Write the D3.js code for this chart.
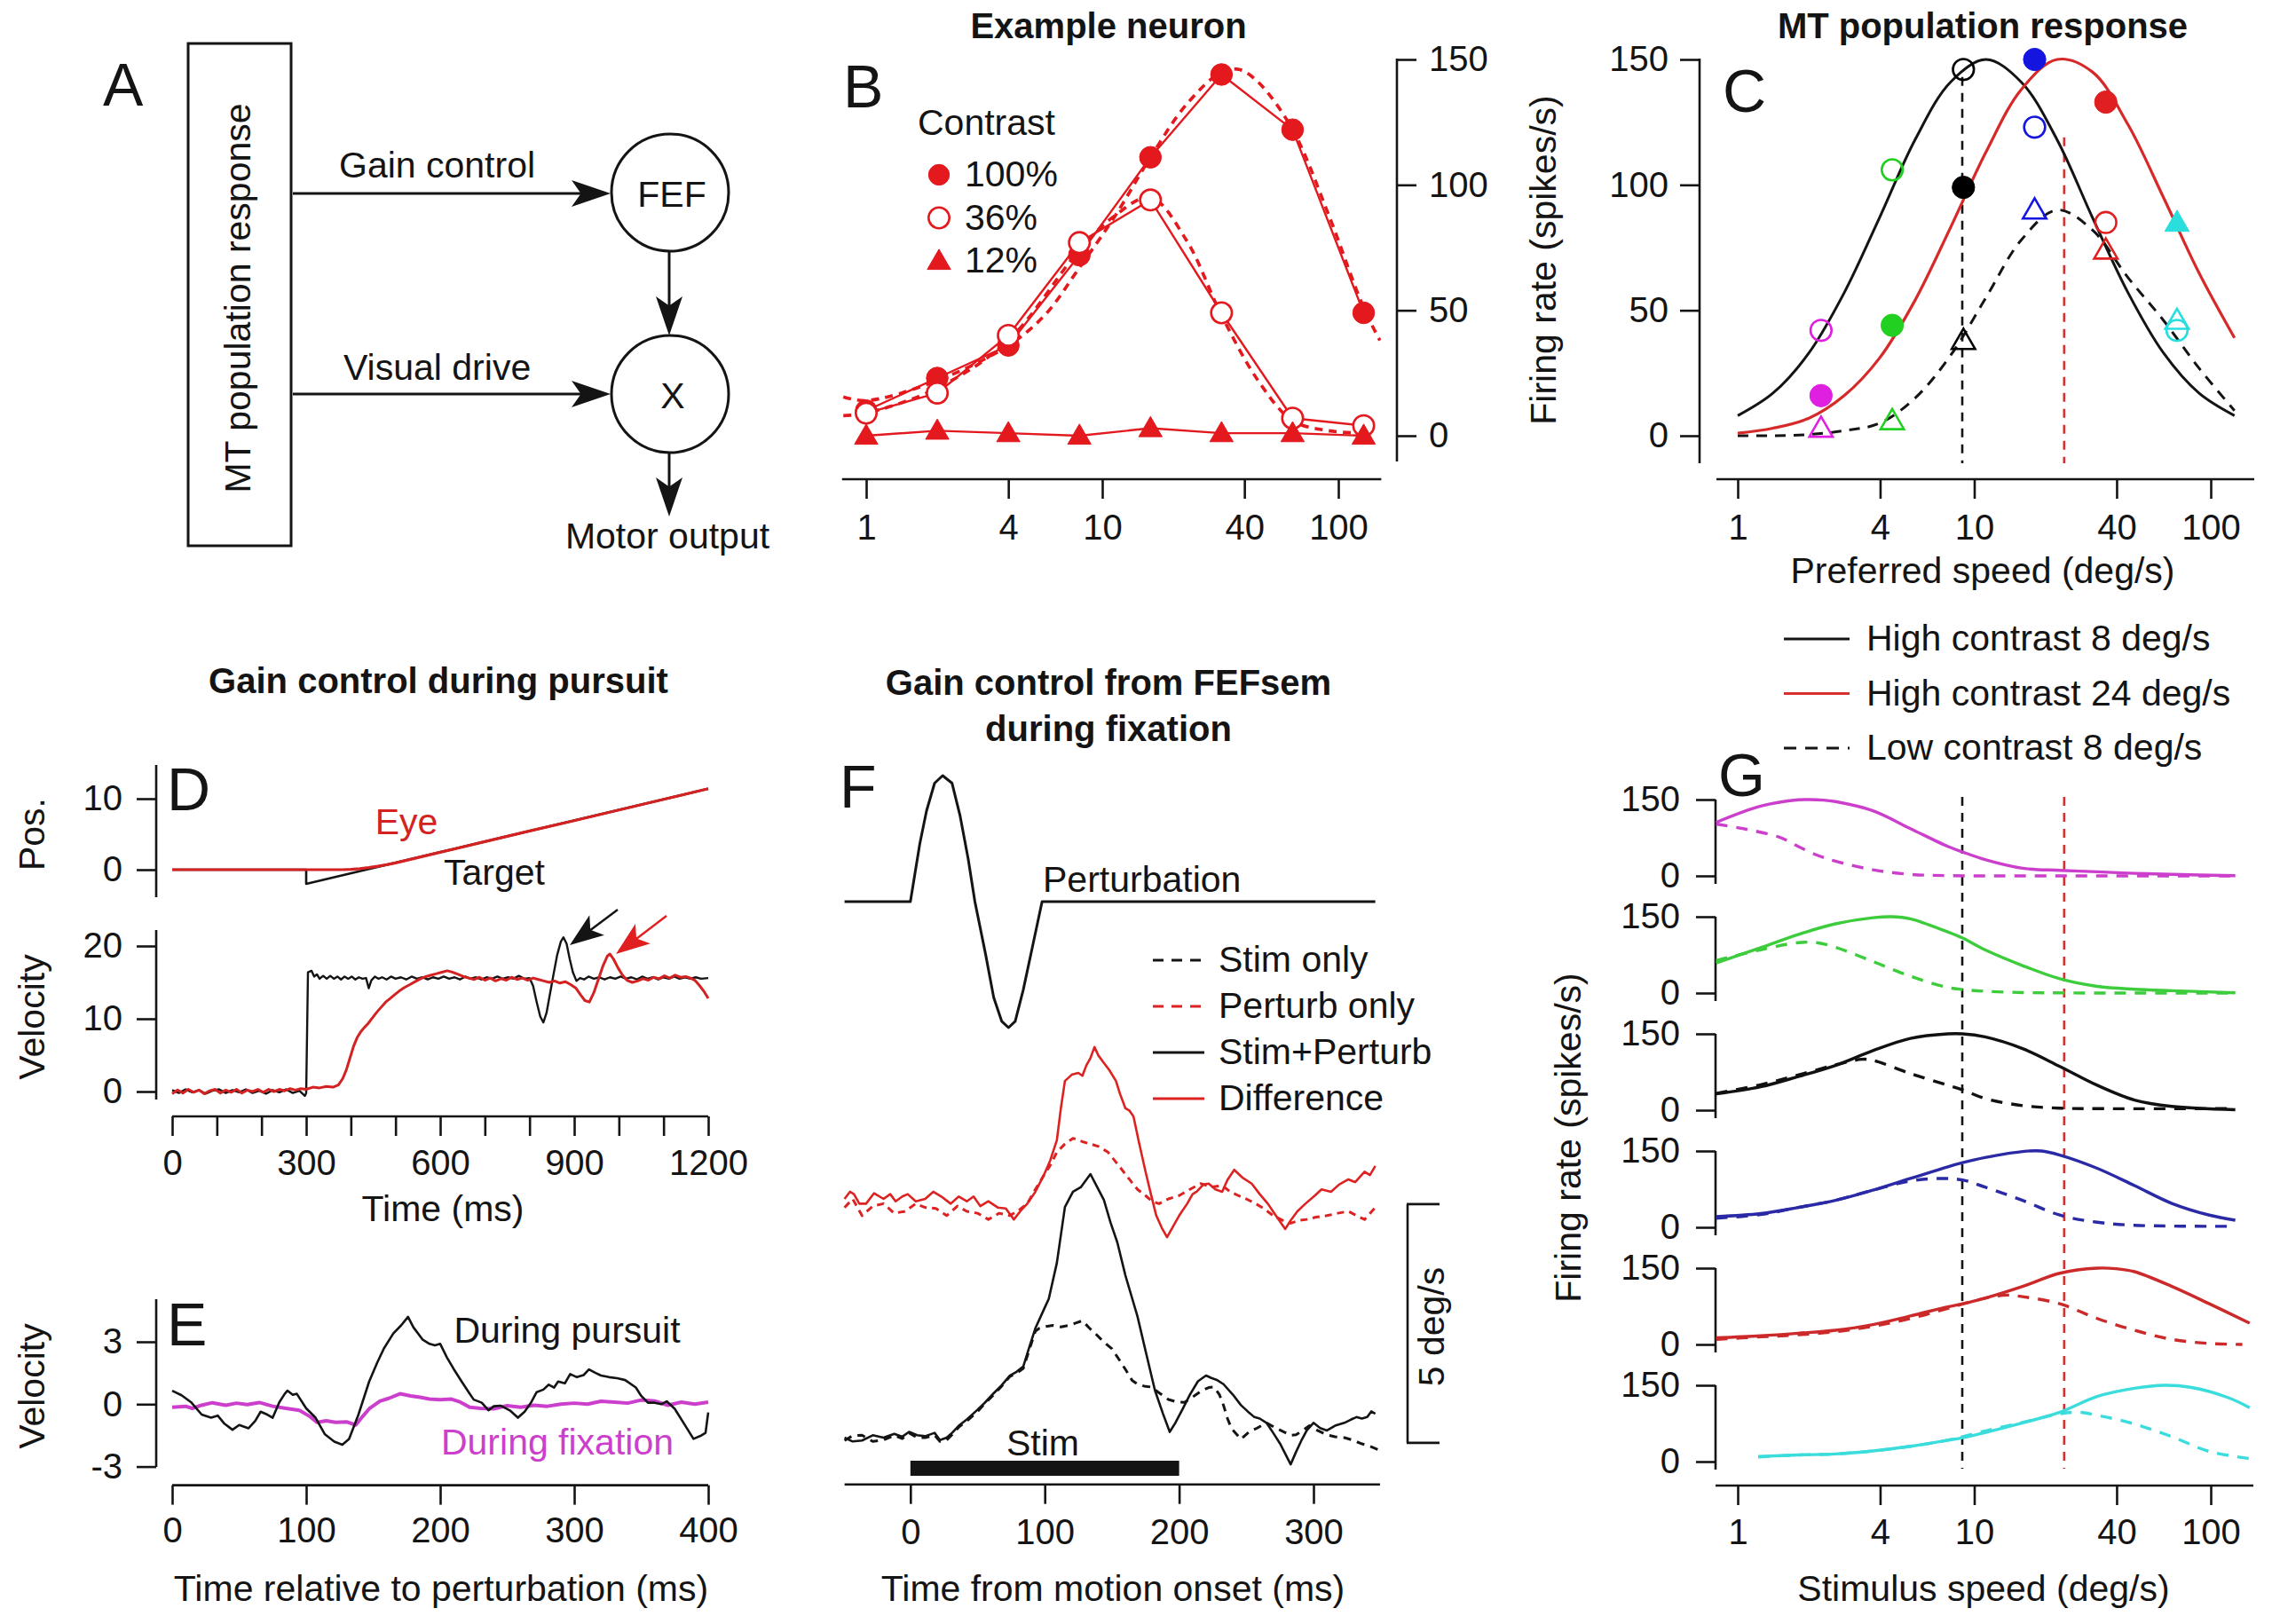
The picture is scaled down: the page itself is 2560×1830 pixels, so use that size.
<!DOCTYPE html>
<html><head><meta charset="utf-8">
<script src="https://cdn.jsdelivr.net/npm/d3@7"></script>
<style>
html,body{margin:0;padding:0;background:#fff;}
svg{display:block;}
</style></head><body>
<svg id="fig" width="2560" height="1830"></svg>
<script>
// ===================== DATA =====================
// Panel B: example neuron
const bSpeeds = [1, 2, 4, 8, 16, 32, 64, 128];
const b100 = [10, 23, 36, 72, 111, 144, 122, 49];
const b36 = [9, 17, 40, 77, 94, 49, 7, 4];
const b12 = [0, 2, 1, 0, 3, 1, 1, 0];
const bFit100 = [[0.8,15.5],[1,14],[2,22],[4,36],[5.7,48],[8,67],[11.4,88],[16,111],[22.7,132],[32,145],[38,146],[45.7,141],[64,122],[91,88],[128,51],[150,38]];
const bFit36 = [[0.8,8],[1,9],[2,19],[4,38],[8,74],[11.4,88],[16,95],[22.7,78],[32,48],[45.7,22],[64,6],[91,2],[128,1]];
const bLegend = ["100%", "36%", "12%"];

// Panel C: MT population response
const cSpeeds = [1, 1.41, 2, 2.82, 3.98, 5.62, 7.94, 11.2, 15.8, 22.4, 31.6, 44.7, 63.1, 89.1, 126];
const cHigh8 = [8, 17, 33, 57, 87, 118, 141, 150, 141, 118, 87, 57, 33, 17, 8];
const cHigh24 = [1, 3, 7, 16, 31, 54, 83, 113, 138, 150, 145, 124, 95, 65, 39];
const cLow8 = [0, 0, 0.5, 2, 5, 15, 32, 55, 78, 90, 82, 63, 46, 27, 10];
const cMarkerSpeeds = [2.25, 4.5, 9, 18, 36, 72];
const cMarkerColors = ["#e020e0", "#22d022", "#000000", "#1515e0", "#e02020", "#2adede"];
const cOpenCircle = [42, 106, 146, 123, 85, 42];
const cFilled = [16, 44, 99, 150, 133, 85];
const cFilledShape = ["circle", "circle", "circle", "circle", "circle", "triangle"];
const cOpenTriangle = [3, 6, 38, 90, 74, 46];
const stimSpeedMarks = [8.9, 24];

// Panel D: gain control during pursuit
const dTargetPos = [[0,0],[300,0],[300,-2],[1200,11.4]];
const dEyePos = [[0,0],[380,0],[400,0.05],[420,0.15],[440,0.3],[460,0.48],[480,0.7],[500,0.95],[550,1.7],[600,2.45],[700,3.95],[800,5.45],[900,6.9],[1000,8.4],[1100,9.9],[1200,11.4]];
const dTargetVel = [[0,0.2],[15,-0.2],[30,0.3],[45,-0.1],[60,0.2],[75,-0.3],[90,0.1],[105,0.3],[120,-0.2],[135,0.2],[150,-0.1],[165,0.3],[180,-0.2],[195,0.1],[210,-0.3],[225,0.2],[240,-0.1],[255,0.3],[270,-0.2],[285,0.1],[297,-0.6],[300,-0.2],[304,16.4],[312,16.6],[318,15.8],[324,16.1],[330,15.5],[338,15.9],[346,15.5],[354,15.9],[362,15.5],[370,15.8],[378,15.4],[386,15.8],[394,15.5],[402,15.8],[410,15.4],[418,15.7],[426,15.5],[434,15.6],[440,14.2],[446,15.3],[454,15.8],[462,15.5],[470,15.7],[480,15.4],[490,15.8],[500,15.5],[512,15.7],[524,15.4],[536,15.8],[548,15.5],[560,15.7],[572,15.4],[584,15.7],[596,15.5],[608,15.8],[620,15.5],[632,15.7],[644,15.4],[656,15.8],[668,15.5],[680,15.7],[692,15.4],[704,15.7],[716,15.5],[728,15.8],[740,15.5],[752,15.7],[764,15.5],[776,15.9],[788,15.5],[800,15.6],[808,14.5],[816,12.3],[824,10.3],[831,9.5],[838,10.8],[846,13.5],[854,16.2],[862,18.8],[870,20.6],[876,21.2],[883,20.3],[890,18.2],[897,16.4],[905,15.2],[913,15.6],[922,15.4],[932,15.8],[944,15.5],[956,15.7],[968,15.4],[980,15.7],[992,15.5],[1004,15.8],[1016,15.5],[1028,15.7],[1040,15.4],[1052,15.8],[1064,15.5],[1076,15.7],[1088,15.4],[1100,15.7],[1112,15.5],[1124,15.8],[1136,15.5],[1148,15.7],[1160,15.5],[1172,15.7],[1184,15.5],[1200,15.6]];
const dEyeVel = [[0,-0.3],[12,0.2],[24,-0.2],[36,0.3],[48,-0.1],[60,0.2],[72,-0.3],[84,0.1],[96,0.3],[108,-0.2],[120,0.2],[132,-0.1],[144,0.3],[156,-0.2],[168,0.2],[180,0.0],[192,0.3],[204,-0.1],[216,0.3],[228,0.0],[240,0.3],[252,0.1],[264,0.4],[276,0.2],[288,0.4],[300,0.3],[315,0.6],[330,0.5],[345,0.7],[360,0.6],[372,0.9],[382,1.8],[390,3.0],[398,4.6],[406,6.2],[414,7.4],[422,8.2],[430,8.8],[438,9.3],[448,10.1],[458,10.9],[468,11.6],[478,12.3],[488,12.8],[498,13.3],[508,13.8],[520,14.3],[532,14.7],[544,15.1],[556,15.5],[568,15.8],[580,16.0],[592,16.2],[604,16.4],[616,16.6],[628,16.4],[640,16.1],[652,15.8],[664,15.6],[676,15.4],[688,15.7],[700,15.3],[712,15.6],[724,15.2],[736,15.5],[748,15.3],[760,15.7],[772,15.4],[784,15.6],[796,15.3],[808,15.6],[820,15.4],[832,15.2],[844,15.0],[856,15.2],[868,14.9],[880,15.1],[892,14.7],[904,14.2],[914,13.3],[924,12.5],[934,12.3],[944,13.6],[954,15.4],[964,17.2],[974,18.6],[980,18.9],[988,18.2],[998,17.0],[1008,16.0],[1018,15.3],[1030,15.0],[1042,15.2],[1054,15.5],[1066,15.3],[1078,15.7],[1090,15.5],[1102,15.9],[1114,15.6],[1126,16.0],[1138,15.7],[1150,15.8],[1160,15.6],[1170,15.3],[1180,14.6],[1190,13.8],[1200,12.8]];

// Panel E
const ePursuit = [[0,0.65],[7,0.43],[14,0.1],[22,-0.5],[29,-0.65],[34,-0.55],[39,-0.94],[45,-1.23],[50,-1.0],[57,-1.16],[62,-0.8],[66,-0.36],[71,-0.5],[75,-0.65],[80,0.1],[84,0.5],[86,0.65],[90,0.45],[93,0.5],[100,-0.2],[107,-0.65],[114,-1.45],[121,-1.8],[127,-1.95],[132,-1.67],[139,-0.5],[147,1.09],[153,2.0],[158,2.68],[165,3.4],[171,3.8],[176,4.2],[180,3.7],[187,3.1],[192,2.9],[196,2.83],[200,2.9],[205,2.25],[210,1.7],[216,1.09],[221,0.6],[225,0.22],[231,0.07],[236,-0.29],[240,-0.1],[245,-0.07],[252,-0.3],[258,-0.65],[263,-0.36],[268,0.1],[272,0.58],[277,0.7],[281,0.94],[285,0.8],[288,1.09],[293,1.0],[297,1.45],[302,1.3],[307,1.4],[311,1.67],[316,1.5],[320,1.38],[326,1.3],[332,1.25],[338,1.16],[346,0.8],[350,0.4],[355,0.07],[360,0.07],[365,0.0],[369,0.14],[375,-0.22],[382,-0.94],[389,-1.67],[395,-1.5],[398,-1.38],[400,-0.4]];
const eFixation = [[0,-0.15],[10,-0.1],[15,-0.2],[22,-0.05],[30,0.07],[40,-0.05],[48,0.05],[56,-0.02],[65,0.08],[75,-0.1],[85,-0.2],[95,-0.3],[103,-0.6],[108,-0.87],[115,-0.8],[122,-0.87],[130,-0.85],[137,-1.0],[142,-0.6],[147,-0.22],[155,0.15],[162,0.29],[170,0.5],[178,0.4],[185,0.33],[192,0.25],[200,0.22],[208,0.25],[215,0.1],[222,-0.15],[230,-0.2],[240,-0.22],[250,-0.07],[260,-0.15],[270,-0.05],[280,-0.1],[290,0],[300,0.05],[310,0],[320,0.14],[330,0.1],[340,0.05],[350,0.2],[360,0.15],[370,-0.05],[380,0.1],[390,0.0],[400,0.1]];

// Panel F
const fPerturbation = [[-49,0],[0,0],[7,0.46],[12,0.72],[18,0.94],[24,1.0],[31,0.94],[37,0.68],[43,0.34],[48,0],[56,-0.42],[62,-0.76],[68,-0.95],[73,-1.0],[78,-0.95],[84,-0.7],[91,-0.35],[98,0],[346,0]];
const fDifference = [[-49,0],[-45,0.15],[-42,0.1],[-38,-0.1],[-33,-0.1],[-27,0.12],[-20,0],[-15,0.1],[-11,-0.05],[-6,0.05],[-2,0.1],[4,-0.05],[11,0],[17,0.15],[23,0.05],[30,-0.1],[36,0.05],[42,-0.05],[47,0.05],[52,-0.15],[58,-0.05],[65,-0.18],[71,-0.2],[77,-0.43],[82,-0.25],[87,-0.1],[93,0.15],[99,0.48],[104,0.8],[109,1.23],[112,1.9],[115,2.47],[120,2.6],[125,2.64],[128,2.58],[131,2.8],[134,2.95],[137,3.18],[140,3.0],[144,2.85],[148,2.7],[153,2.47],[156,2.2],[160,1.9],[163,1.85],[166,1.73],[170,1.2],[175,0.57],[179,0.1],[183,-0.35],[187,-0.6],[191,-0.8],[195,-0.6],[200,-0.35],[206,-0.1],[210,0.1],[213,0.15],[218,0.3],[222,0.32],[227,0.2],[232,0.15],[236,0.4],[241,0.61],[247,0.45],[254,0.32],[260,0.1],[266,-0.1],[272,-0.35],[279,-0.63],[283,-0.45],[288,-0.26],[294,-0.1],[301,0.07],[306,0.2],[313,0.15],[319,0.3],[326,0.41],[331,0.35],[338,0.57],[342,0.5],[346,0.69]];
const fPerturbOnly = [[-49,-0.18],[-43,0.0],[-36,-0.35],[-28,-0.15],[-20,-0.1],[-12,-0.3],[-4,-0.26],[4,-0.1],[11,-0.18],[19,-0.2],[27,-0.35],[35,-0.15],[42,-0.26],[50,-0.3],[58,-0.43],[66,-0.3],[74,-0.35],[80,-0.25],[87,-0.1],[93,0.2],[99,0.48],[104,0.7],[109,0.98],[115,1.15],[121,1.27],[128,1.2],[134,1.15],[140,1.1],[147,0.98],[155,0.7],[163,0.41],[169,0.2],[175,0.07],[180,-0.05],[185,-0.1],[192,0.0],[200,0.07],[208,0.2],[216,0.32],[224,0.25],[232,0.28],[238,0.15],[244,0.07],[250,0.0],[257,-0.1],[263,-0.2],[270,-0.35],[277,-0.45],[283,-0.51],[289,-0.45],[295,-0.43],[302,-0.38],[310,-0.35],[318,-0.3],[326,-0.26],[332,-0.35],[338,-0.43],[346,-0.18]];
const fStimPerturb = [[-49,0],[-43,-0.08],[-36,-0.06],[-28,0.05],[-20,0],[-12,0.08],[-6,0.02],[-1,0.12],[5,0.05],[11,0.03],[18,0.1],[22,-0.05],[27,0],[31,0.1],[36,0.25],[42,0.38],[49,0.56],[55,0.72],[62,0.93],[68,1.1],[74,1.3],[79,1.38],[84,1.49],[88,1.85],[93,2.29],[98,2.6],[103,2.91],[109,3.66],[115,4.83],[121,5.15],[127,5.25],[134,5.52],[139,5.25],[144,4.98],[149,4.5],[154,4.09],[160,3.4],[169,2.54],[176,1.7],[182,0.99],[188,0.5],[193,0.12],[197,0.3],[203,0.62],[208,0.9],[214,1.18],[220,1.3],[224,1.25],[228,1.21],[233,1.12],[240,0.9],[246,0.68],[251,0.55],[256,0.43],[260,0.4],[265,0.31],[270,0.1],[275,-0.12],[283,-0.56],[287,-0.3],[291,-0.06],[295,0.15],[300,0.31],[305,0.2],[310,0.15],[316,0.25],[323,0.31],[328,0.38],[332,0.43],[336,0.4],[340,0.43],[343,0.55],[346,0.5]];
const fStimOnly = [[-49,-0.06],[-43,0.04],[-36,0.05],[-28,-0.08],[-20,-0.05],[-12,0.05],[-6,-0.02],[-1,0.1],[5,0.0],[11,0],[18,0.05],[22,-0.08],[27,-0.05],[31,0.06],[36,0.22],[42,0.35],[49,0.52],[55,0.7],[62,0.9],[68,1.08],[74,1.28],[79,1.35],[84,1.45],[88,1.8],[93,2.23],[96,2.29],[101,2.33],[106,2.35],[112,2.32],[118,2.35],[123,2.4],[128,2.45],[133,2.3],[138,2.17],[144,2.0],[150,1.86],[155,1.65],[160,1.43],[165,1.2],[169,1.12],[174,1.08],[179,1.06],[186,0.92],[192,0.8],[198,0.75],[204,0.74],[210,0.85],[217,0.99],[222,1.05],[226,1.06],[230,0.9],[233,0.68],[236,0.4],[239,0.19],[246,-0.03],[252,0.12],[258,0.2],[265,0.31],[272,0.2],[278,0.12],[283,0.05],[287,0.06],[292,0.15],[297,0.25],[303,0.15],[310,0.06],[316,0.02],[323,0],[329,-0.05],[335,-0.12],[342,-0.18],[348,-0.25]];
const fRedOffset = 5;
const fStimWindow = [0, 200];
const fLegend = ["Stim only", "Perturb only", "Stim+Perturb", "Difference"];

// Panel G: model population responses (speed deg/s, spikes/s)
const gMagentaHigh = [[0.81,105],[1.25,137],[1.8,149.5],[2.0,150],[2.3,149],[2.59,146],[3.73,128],[5.37,93],[7.73,58],[8.93,47],[11.1,32],[16,15],[23,11],[33.1,8],[47.6,5],[68.5,3],[127,0.5]];
const gMagentaLow = [[0.81,102],[1.05,93],[1.5,76],[1.8,58],[2.16,41],[2.59,29],[3.73,12],[5.37,3],[7.73,0.5],[20,0],[127,0]];
const gGreenHigh = [[0.81,59],[1.25,89],[1.8,115],[2.59,136],[3.73,148],[4.48,150],[5.37,146],[7.73,120],[8.93,108],[11.1,85],[16,54],[23,28],[33.1,13],[47.6,7.5],[68.5,4.6],[127,0.5]];
const gGreenLow = [[0.81,64],[1.25,85],[1.8,99],[2.16,99],[2.59,90],[3.73,62],[5.37,33],[7.73,11],[8.93,7],[11.1,3.5],[16,1],[40,0],[127,0]];
const gBlackHigh = [[0.81,32],[1.25,46],[1.8,66],[2.59,88],[3.73,117],[5.37,141],[7.73,150],[8.93,150],[11.1,144],[16,121],[23,86],[33.1,49],[47.6,20],[68.5,7.5],[127,1]];
const gBlackLow = [[0.81,33],[1.25,50],[1.8,69],[2.59,89],[3.35,100],[3.73,98],[5.37,72],[7.73,49],[8.93,40],[11.1,23],[16,9],[23,4],[33.1,3],[127,3]];
const gBlueHigh = [[0.81,21],[1.25,27],[1.8,39],[2.59,53],[3.73,73],[5.37,96],[7.73,119],[8.93,127],[11.1,137],[16,149],[19.2,150],[23,142],[33.1,116],[47.6,82],[68.5,47],[98.6,24],[127,14]];
const gBlueLow = [[0.81,18],[1.25,25],[1.8,39],[2.59,53],[3.73,73],[5.37,91],[7.18,96],[8.93,93],[11.1,79],[16,53],[23,24],[33.1,10],[47.6,4],[127,2]];
const gRedHigh = [[0.81,13],[1.25,17],[1.8,22],[2.59,28],[3.73,39],[5.37,56],[7.73,74],[8.93,80],[11.1,91],[16,114],[23,140],[33.1,150],[39.7,149],[47.6,143],[68.5,114],[98.6,80],[146,42]];
const gRedLow = [[0.81,10],[1.25,15],[1.8,19],[2.59,25],[3.73,36],[5.37,51],[7.73,71],[11.1,91],[13.8,97],[16,94],[23,80],[33.1,51],[47.6,28],[68.5,10],[98.6,2],[136,0]];
const gCyanHigh = [[1.22,10],[1.8,13],[2.59,15],[3.73,21],[5.37,30],[7.73,42],[8.93,47],[11.1,57],[16,76],[23,97],[33.1,128],[47.6,144],[63.6,150],[82.1,146],[118,126],[146,106]];
const gCyanLow = [[1.22,9],[1.8,13],[2.59,15],[3.73,21],[5.37,30],[7.73,42],[11.1,60],[16,77],[23,94],[27.6,97],[33.1,91],[47.6,74],[68.5,49],[98.6,20],[146,6]];
const gRows = [
  {hi: gMagentaHigh, lo: gMagentaLow, color: "#cc3fcc"},
  {hi: gGreenHigh,   lo: gGreenLow,   color: "#3ccc3c"},
  {hi: gBlackHigh,   lo: gBlackLow,   color: "#111111"},
  {hi: gBlueHigh,    lo: gBlueLow,    color: "#2a2aa6"},
  {hi: gRedHigh,     lo: gRedLow,     color: "#cc2a2a"},
  {hi: gCyanHigh,    lo: gCyanLow,    color: "#3adcdc"}
];
const gLegend = ["High contrast 8 deg/s", "High contrast 24 deg/s", "Low contrast 8 deg/s"];
const logTicks = [1, 4, 10, 40, 100];

// ===================== DRAWING =====================
const FONT = '"Liberation Sans", Arial, Helvetica, sans-serif';
const INK = "#141414";
const AX = 2.6;
const RED = "#e3191e";
const SMOOTH = d3.curveCatmullRom.alpha(0.5);
const svg = d3.select("#fig").attr("font-family", FONT);
svg.append("rect").attr("width", 2560).attr("height", 1830).attr("fill", "#fff");

function text(x, y, s, o = {}) {
  const t = svg.append("text").attr("x", x).attr("y", y).text(s)
    .attr("font-size", o.size || 41).attr("fill", o.fill || INK)
    .attr("text-anchor", o.anchor || "start")
    .attr("font-weight", o.weight || "normal");
  if (o.rotate) t.attr("transform", `rotate(${o.rotate},${x},${y})`);
  return t;
}
function line(x1, y1, x2, y2, o = {}) {
  return svg.append("line").attr("x1", x1).attr("y1", y1).attr("x2", x2).attr("y2", y2)
    .attr("stroke", o.color || INK).attr("stroke-width", o.w || AX)
    .attr("stroke-dasharray", o.dash || null);
}
function styleAxis(g) {
  g.attr("font-size", 40).attr("font-family", FONT);
  g.select(".domain").remove();
  g.selectAll(".tick line").attr("stroke", INK).attr("stroke-width", AX);
  g.selectAll(".tick text").attr("fill", INK);
}
function bottomAxis(scale, y, ticks, fmt, pad, x1, x2) {
  const g = svg.append("g").attr("transform", `translate(0,${y})`)
    .call(d3.axisBottom(scale).tickValues(ticks).tickFormat(fmt).tickSize(22).tickPadding(pad).tickSizeOuter(0));
  styleAxis(g);
  line(x1, y, x2, y);
}
function leftAxis(scale, x, ticks, pad, y1, y2, fmt) {
  const g = svg.append("g").attr("transform", `translate(${x},0)`)
    .call(d3.axisLeft(scale).tickValues(ticks).tickFormat(fmt || (d => String(d))).tickSize(22).tickPadding(pad).tickSizeOuter(0));
  styleAxis(g);
  line(x, y1, x, y2);
}
function path(data, xs, ys, color, w, dash, curve) {
  return svg.append("path").datum(data)
    .attr("d", d3.line().x(d => xs(d[0])).y(d => ys(d[1])).curve(curve || d3.curveLinear))
    .attr("fill", "none").attr("stroke", color).attr("stroke-width", w)
    .attr("stroke-dasharray", dash || null).attr("stroke-linejoin", "round").attr("stroke-linecap", "butt");
}
function marker(x, y, shape, color, filled, size) {
  const sym = shape === "triangle" ? d3.symbolTriangle : d3.symbolCircle;
  const area = size || (shape === "triangle" ? 300 : 470);
  return svg.append("path").attr("d", d3.symbol(sym, area)())
    .attr("transform", `translate(${x},${y + (shape === "triangle" ? 2 : 0)})`)
    .attr("fill", filled ? color : "#fff").attr("fill-opacity", filled ? 1 : 0)
    .attr("stroke", color).attr("stroke-width", filled ? 1 : 2.6);
}
function arrowHead(x, y, ang, color, L, W) {
  L = L || 44; W = W || 15;
  svg.append("path").attr("d", `M0,0 L${-L},${-W} L${-L * 0.76},0 L${-L},${W} Z`)
    .attr("transform", `translate(${x},${y}) rotate(${ang})`).attr("fill", color);
}
const panelLabel = (x, y, s) => text(x, y, s, {size: 68});

// ---------- Panel A ----------
panelLabel(116, 119, "A");
svg.append("rect").attr("x", 212).attr("y", 49).attr("width", 116).attr("height", 566)
  .attr("fill", "none").attr("stroke", INK).attr("stroke-width", 3);
text(282, 336, "MT population response", {anchor: "middle", rotate: -90});
svg.append("circle").attr("cx", 755).attr("cy", 217).attr("r", 66).attr("fill", "none").attr("stroke", INK).attr("stroke-width", 3);
svg.append("circle").attr("cx", 755).attr("cy", 444).attr("r", 66).attr("fill", "none").attr("stroke", INK).attr("stroke-width", 3);
text(757, 233, "FEF", {anchor: "middle", size: 41});
text(758, 460, "X", {anchor: "middle", size: 41});
line(330, 218, 660, 218, {w: 3}); arrowHead(688, 218, 0, INK);
line(330, 444, 660, 444, {w: 3}); arrowHead(688, 444, 0, INK);
line(754, 284, 754, 352, {w: 3}); arrowHead(754, 378, 90, INK);
line(754, 510, 754, 556, {w: 3}); arrowHead(754, 582, 90, INK);
text(382, 200, "Gain control");
text(387, 428, "Visual drive");
text(752, 618, "Motor output", {anchor: "middle"});

// ---------- Panel B ----------
text(1249, 43, "Example neuron", {anchor: "middle", weight: "bold", size: 40});
panelLabel(950, 121, "B");
const xB = d3.scaleLog().domain([1, 100]).range([976, 1508]);
const yB = d3.scaleLinear().domain([0, 150]).range([491, 67]);
bottomAxis(xB, 540, logTicks, d3.format("d"), 18, xB(0.79), xB(152));
{
  const g = svg.append("g").attr("transform", "translate(1574,0)")
    .call(d3.axisRight(yB).tickValues([0, 50, 100, 150]).tickSize(22).tickPadding(14).tickSizeOuter(0));
  styleAxis(g);
  line(1574, 66, 1574, 520);
}
path(bFit100, xB, yB, RED, 3.6, "9,7", SMOOTH);
path(bFit36, xB, yB, RED, 3.6, "9,7", SMOOTH);
const bPts = s => bSpeeds.map((v, i) => [v, s[i]]);
path(bPts(b100), xB, yB, RED, 2.4);
path(bPts(b36), xB, yB, RED, 2.4);
path(bPts(b12), xB, yB, RED, 2.4);
bPts(b100).forEach(d => marker(xB(d[0]), yB(d[1]), "circle", RED, true, 470));
bPts(b36).forEach(d => { marker(xB(d[0]), yB(d[1]), "circle", RED, false, 430).attr("fill-opacity", 1); });
bPts(b12).forEach(d => marker(xB(d[0]), yB(d[1]), "triangle", RED, true, 300));
text(1034, 152, "Contrast");
[["circle", true], ["circle", false], ["triangle", true]].forEach((m, i) => {
  const y = 197 + i * 48.5;
  const mk = marker(1058, y, m[0], RED, m[1], m[0] === "triangle" ? 300 : 430);
  if (!m[1]) mk.attr("fill-opacity", 1);
  text(1087, y + 13, bLegend[i], {size: 41});
});

// ---------- Panel C ----------
text(2234, 43, "MT population response", {anchor: "middle", weight: "bold", size: 40});
panelLabel(1941, 126, "C");
const xC = d3.scaleLog().domain([1, 100]).range([1958, 2491]);
const yC = d3.scaleLinear().domain([0, 150]).range([491, 67]);
bottomAxis(xC, 540, logTicks, d3.format("d"), 18, 1934, 2540);
leftAxis(yC, 1915, [0, 50, 100, 150], 13, 66, 522);
text(1753, 293, "Firing rate (spikes/s)", {anchor: "middle", rotate: -90});
text(2234, 657, "Preferred speed (deg/s)", {anchor: "middle"});
line(xC(stimSpeedMarks[0]), yC(143), xC(stimSpeedMarks[0]), 522, {w: 2.6, dash: "10,8"});
line(xC(stimSpeedMarks[1]), yC(119), xC(stimSpeedMarks[1]), 522, {w: 2.6, dash: "10,8", color: "#d63030"});
const cPts = s => cSpeeds.map((v, i) => [v, s[i]]);
path(cPts(cLow8), xC, yC, INK, 3, "12,9", SMOOTH);
path(cPts(cHigh8), xC, yC, INK, 3, null, SMOOTH);
path(cPts(cHigh24), xC, yC, "#d62a2a", 3.2, null, SMOOTH);
cMarkerSpeeds.forEach((s, i) => {
  const x = xC(s), col = cMarkerColors[i];
  marker(x, yC(cOpenTriangle[i]), "triangle", col, false, 300);
  marker(x, yC(cOpenCircle[i]), "circle", col, false, 440);
  marker(x, yC(cFilled[i]), cFilledShape[i], col, true, cFilledShape[i] === "triangle" ? 330 : 500);
});

// ---------- Panel D ----------
text(494, 781, "Gain control during pursuit", {anchor: "middle", weight: "bold", size: 40});
panelLabel(188, 913, "D");
const xD = d3.scaleLinear().domain([0, 1200]).range([194, 798]);
const yDp = d3.scaleLinear().domain([0, 10]).range([980, 900]);
const yDv = d3.scaleLinear().domain([0, 20]).range([1230, 1066]);
leftAxis(yDp, 176, [0, 10], 16, 862, 1011);
leftAxis(yDv, 176, [0, 10, 20], 16, 1048, 1239);
bottomAxis(xD, 1258, d3.range(0, 1201, 100), d => (d % 300 === 0 ? d : ""), 16, 194, 798);
text(50, 940, "Pos.", {anchor: "middle", rotate: -90});
text(50, 1146, "Velocity", {anchor: "middle", rotate: -90});
text(499, 1376, "Time (ms)", {anchor: "middle"});
path(dTargetPos, xD, yDp, INK, 2.6);
path(dEyePos, xD, yDp, "#d42222", 3.2);
path(dTargetVel, xD, yDv, INK, 2.4);
path(dEyeVel, xD, yDv, "#d42222", 3);
text(458, 940, "Eye", {anchor: "middle", fill: "#d42222"});
text(557, 997, "Target", {anchor: "middle"});
line(696, 1025, 660, 1052, {w: 2.4});
arrowHead(642, 1065, 143.5, INK, 38, 14);
line(751, 1032, 713, 1061, {w: 2.4, color: "#e02020"});
arrowHead(694, 1075, 143, "#e02020", 38, 14);

// ---------- Panel E ----------
panelLabel(188, 1516, "E");
const xE = d3.scaleLinear().domain([0, 400]).range([194, 798]);
const yE = d3.scaleLinear().domain([-3, 3]).range([1652.6, 1512]);
leftAxis(yE, 176, [-3, 0, 3], 16, 1464, 1653);
bottomAxis(xE, 1673.6, [0, 100, 200, 300, 400], d => d, 14, 194, 798);
text(50, 1562, "Velocity", {anchor: "middle", rotate: -90});
text(497, 1804, "Time relative to perturbation (ms)", {anchor: "middle"});
path(eFixation, xE, yE, "#cc3fcc", 4);
path(ePursuit, xE, yE, INK, 2.6);
text(639, 1513, "During pursuit", {anchor: "middle"});
text(628, 1639, "During fixation", {anchor: "middle", fill: "#cc3fcc"});

// ---------- Panel F ----------
text(1249, 783, "Gain control from FEFsem", {anchor: "middle", weight: "bold", size: 40});
text(1249, 835, "during fixation", {anchor: "middle", weight: "bold", size: 40});
panelLabel(946, 910, "F");
const xF = d3.scaleLinear().domain([0, 300]).range([1025.8, 1480]);
const yF = d3.scaleLinear().domain([0, 5]).range([1620, 1351]);
const yPert = d3.scaleLinear().domain([-1, 1]).range([1158, 874]);
bottomAxis(xF, 1672.7, [0, 100, 200, 300], d => d, 17, xF(-49), xF(349.5));
text(1254, 1804, "Time from motion onset (ms)", {anchor: "middle"});
path(fPerturbation, xF, yPert, INK, 3);
text(1175, 1005, "Perturbation");
const redShift = arr => arr.map(d => [d[0], d[1] + fRedOffset]);
path(redShift(fPerturbOnly), xF, yF, "#dd2222", 3, "8,6");
path(redShift(fDifference), xF, yF, "#dd2222", 2.6);
path(fStimOnly, xF, yF, INK, 3, "9,7");
path(fStimPerturb, xF, yF, INK, 2.6);
svg.append("rect").attr("x", xF(fStimWindow[0])).attr("y", 1646)
  .attr("width", xF(fStimWindow[1]) - xF(fStimWindow[0])).attr("height", 17).attr("fill", INK);
text(1175, 1640, "Stim", {anchor: "middle"});
// scale bar 5 deg/s
line(1586, yF(4.89), 1586, yF(-0.11), {w: 2.6});
line(1585, yF(4.89), 1622, yF(4.89), {w: 2.6});
line(1585, yF(-0.11), 1622, yF(-0.11), {w: 2.6});
text(1627, 1495, "5 deg/s", {anchor: "middle", rotate: -90});
// legend
const fLegStyle = [[INK, "12,9"], ["#dd2222", "12,9"], [INK, null], ["#dd2222", null]];
fLegend.forEach((s, i) => {
  const y = 1082 + i * 52;
  line(1299, y, 1357, y, {w: 3, color: fLegStyle[i][0], dash: fLegStyle[i][1]});
  text(1373, y + 13, s);
});

// ---------- Panel G ----------
const legColors = [[INK, null], ["#d63030", null], [INK, "14,10"]];
gLegend.forEach((s, i) => {
  const y = 720 + i * 61.5;
  line(2010, y, 2084, y, {w: 3, color: legColors[i][0], dash: legColors[i][1]});
  text(2103, y + 13, s);
});
panelLabel(1936, 897, "G");
const xG = d3.scaleLog().domain([1, 100]).range([1958, 2491]);
const gTops = gRows.map((r, i) => 901 + i * 132);
line(xG(stimSpeedMarks[0]), 898, xG(stimSpeedMarks[0]), 1655, {w: 2.6, dash: "10,8"});
line(xG(stimSpeedMarks[1]), 898, xG(stimSpeedMarks[1]), 1655, {w: 2.6, dash: "10,8", color: "#d63030"});
gRows.forEach((r, i) => {
  const top = gTops[i];
  const yG = d3.scaleLinear().domain([0, 150]).range([top + 86, top]);
  leftAxis(yG, 1933, [0, 150], 18, top, top + 95);
  path(r.lo, xG, yG, r.color, 3.4, "13,10", SMOOTH);
  path(r.hi, xG, yG, r.color, 3.4, null, SMOOTH);
});
bottomAxis(xG, 1674, logTicks, d3.format("d"), 16, 1933, 2539);
text(1781, 1282, "Firing rate (spikes/s)", {anchor: "middle", rotate: -90});
text(2235, 1804, "Stimulus speed (deg/s)", {anchor: "middle"});
</script></body></html>
